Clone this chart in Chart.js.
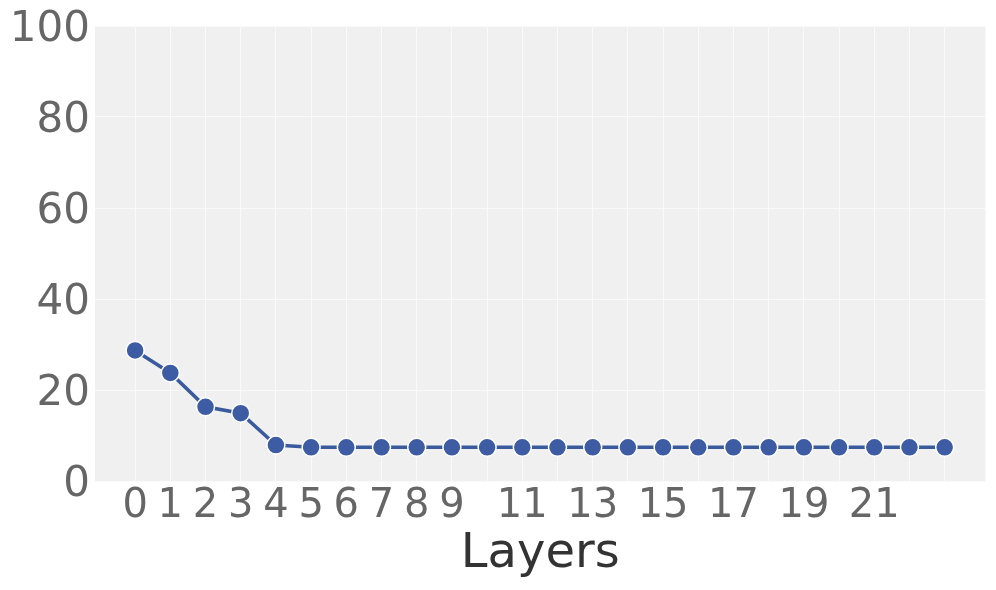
<!DOCTYPE html>
<html>
<head>
<meta charset="utf-8">
<script src="https://cdn.jsdelivr.net/npm/chart.js@4/dist/chart.umd.min.js"></script>
<style>
html,body{margin:0;padding:0;background:#fff;}
#wrap{width:996px;height:590px;}
</style>
</head>
<body>
<div id="wrap"><canvas id="c" width="996" height="590"></canvas></div>
<script>
const layers = [0,1,2,3,4,5,6,7,8,9,10,11,12,13,14,15,16,17,18,19,20,21,22,23];
const values = [28.7,23.75,16.3,14.9,7.9,7.4,7.4,7.4,7.4,7.4,7.4,7.4,7.4,7.4,7.4,7.4,7.4,7.4,7.4,7.4,7.4,7.4,7.4,7.4];
const xTickLabels = ['0','1','2','3','4','5','6','7','8','9','11','13','15','17','19','21'];
const yTicks = [0,20,40,60,80,100];
const xAxisTitle = 'Layers';

const points = layers.map((l,i)=>({x:l,y:values[i]}));

const bgPlugin = {
  id:'bg',
  beforeDraw(chart){
    const {ctx, chartArea:a} = chart;
    ctx.save();
    ctx.fillStyle = '#f0f0f0';
    ctx.fillRect(a.left, a.top, a.right-a.left, a.bottom-a.top);
    ctx.restore();
  }
};

new Chart(document.getElementById('c'), {
  type:'line',
  data:{
    datasets:[{
      data:points,
      borderColor:'#3a5a9e',
      borderWidth:3.5,
      pointBackgroundColor:'#3d5ca3',
      pointBorderColor:'#ffffff',
      pointBorderWidth:1.5,
      pointRadius:9,
      pointHoverRadius:9,
      tension:0,
      fill:false
    }]
  },
  options:{
    responsive:false,
    animation:false,
    devicePixelRatio:1,
    layout:{padding:{top:26,right:10,left:0,bottom:0}},
    plugins:{legend:{display:false},tooltip:{enabled:false}},
    scales:{
      x:{
        type:'linear',
        min:-1.14,
        max:24.16,
        afterBuildTicks(scale){
          scale.ticks = layers.map(v=>({value:v}));
        },
        afterFit(scale){
          scale.height = 109;
          scale.paddingLeft = 0; scale.paddingRight = 0;
        },
        grid:{color:'#fafafa',lineWidth:1,drawTicks:false},
        border:{display:false},
        ticks:{
          autoSkip:false,
          maxRotation:0,
          padding:2,
          color:'#666666',
          font:{family:'DejaVu Sans',size:40},
          callback(v){ const s=String(v); return xTickLabels.includes(s)?s:''; }
        },
        title:{
          display:true,
          text:xAxisTitle,
          color:'#333333',
          font:{family:'DejaVu Sans',size:48},
          padding:{top:0,bottom:7}
        }
      },
      y:{
        min:0,max:100,
        afterBuildTicks(scale){
          scale.ticks = yTicks.map(v=>({value:v}));
        },
        afterFit(scale){
          scale.width = 95;
          scale.paddingTop = 0; scale.paddingBottom = 0;
        },
        grid:{color:'#fafafa',lineWidth:1,drawTicks:false},
        border:{display:false},
        ticks:{
          padding:5,
          labelOffset:4,
          color:'#666666',
          font:{family:'DejaVu Sans',size:42}
        }
      }
    }
  },
  plugins:[bgPlugin]
});
</script>
</body>
</html>
